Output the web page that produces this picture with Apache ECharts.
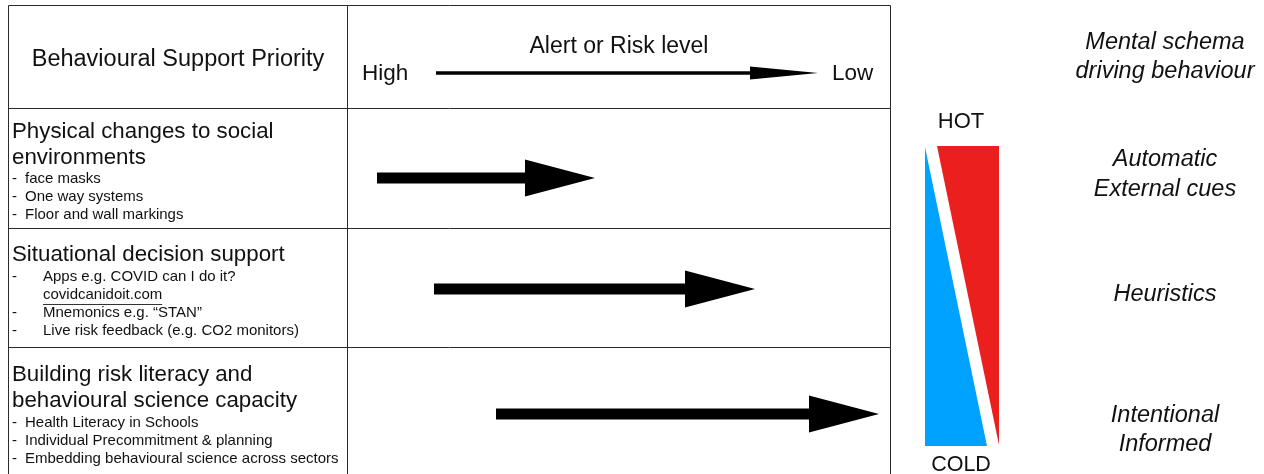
<!DOCTYPE html>
<html>
<head>
<meta charset="utf-8">
<title>Behavioural support priority</title>
<script src="https://cdn.jsdelivr.net/npm/echarts@6/dist/echarts.min.js"></script>
<style>
  html, body { margin: 0; padding: 0; background: #fff; }
  #chart { width: 1264px; height: 474px; }
</style>
</head>
<body>
<div id="chart"></div>
<script>
// ---- data ----
const headerLeft = 'Behavioural Support Priority';
const riskTitle = 'Alert or Risk level';
const riskEnds = ['High', 'Low'];

const priorities = [
  ['Physical changes to social', 'environments'],
  ['Situational decision support'],
  ['Building risk literacy and', 'behavioural science capacity'],
];
const priorityItems = [
  ['face masks', 'One way systems', 'Floor and wall markings'],
  ['Apps e.g. COVID can I do it?', 'covidcanidoit.com', 'Mnemonics e.g. “STAN”', 'Live risk feedback (e.g. CO2 monitors)'],
  ['Health Literacy in Schools', 'Individual Precommitment & planning', 'Embedding behavioural science across sectors'],
];

// arrows in the alert/risk column (start, tip, height on the page)
const arrowFrom = [377, 434, 496];
const arrowTo = [595, 755, 879];
const arrowY = [178, 289, 414];
const riskArrow = [436, 818, 73];

// hot / cold wedge
const hotWedge = [[937, 146], [999, 146], [999, 445]];
const coldWedge = [[925, 147], [925, 446], [987, 446]];
const hotCold = ['HOT', 'COLD'];

const schemaTitle = ['Mental schema', 'driving behaviour'];
const schemaLevels = [['Automatic', 'External cues'], ['Heuristics'], ['Intentional', 'Informed']];

// table rules
const rowRules = [5, 108, 228, 347];
const colRules = [8, 347, 890];

// ---- layout ----
const FONT = "'Liberation Sans', Arial, Helvetica, sans-serif";
const tableLeft = colRules[0], tableRight = colRules[2];
const titleY = [132, 255, 375];
const bulletY = [179, 277, 423];
const bulletIndent = [25, 43, 25];
const schemaTitleY = [42, 71];
const schemaLevelY = [[159, 189], [294], [415, 444]];

const chart = echarts.init(document.getElementById('chart'), null, { renderer: 'canvas' });

// collect texts
const texts = [];
function addText(x, y, text, font, align, underline) {
  texts.push({ x, y, text, font, align: align || 'left', underline: !!underline });
}
addText(178, 60, headerLeft, '23.5px ' + FONT, 'center');
addText(619, 47, riskTitle, '23px ' + FONT, 'center');
addText(362, 74, riskEnds[0], '22.5px ' + FONT, 'left');
addText(832, 74, riskEnds[1], '22.5px ' + FONT, 'left');

priorities.forEach((lines, i) => {
  lines.forEach((ln, j) => {
    addText(12, titleY[i] + j * 26, ln, '22.3px ' + FONT);
  });
  priorityItems[i].forEach((it, k) => {
    const isLink = /\.com$/.test(it);
    const y = bulletY[i] + k * 18;
    if (!isLink) addText(12, y, '-', '15px ' + FONT);
    addText(bulletIndent[i], y, it, '15px ' + FONT, 'left', isLink);
  });
});

addText(961, 122, hotCold[0], '22px ' + FONT, 'center');
addText(961, 465, hotCold[1], '21.5px ' + FONT, 'center');
schemaTitle.forEach((t, j) => addText(1165, schemaTitleY[j], t, 'italic 23.5px ' + FONT, 'center'));
schemaLevels.forEach((lines, i) => {
  lines.forEach((t, j) => addText(1165, schemaLevelY[i][j], t, 'italic 23.5px ' + FONT, 'center'));
});

const measureCtx = document.createElement('canvas').getContext('2d');

function arrowShape(a, b, head, half, shaft) {
  const hx = b[0] - head;
  const y = a[1];
  return [[a[0], y - shaft], [hx, y - shaft], [hx, y - half], [b[0], y],
          [hx, y + half], [hx, y + shaft], [a[0], y + shaft]];
}

const hRules = rowRules.map(y => [tableLeft, tableRight, y, y]);
const vRules = colRules.map(x => [x, x, rowRules[0], 474]);

const option = {
  animation: false,
  backgroundColor: '#fff',
  grid: { left: 0, right: 0, top: 0, bottom: 0 },
  xAxis: { type: 'value', min: 0, max: 1264, show: false },
  yAxis: { type: 'value', min: 0, max: 474, inverse: true, show: false },
  series: [
    {
      // table rules
      type: 'custom', silent: true,
      data: hRules.concat(vRules),
      renderItem: (params, api) => {
        const p1 = api.coord([api.value(0), api.value(2)]);
        const p2 = api.coord([api.value(1), api.value(3)]);
        return {
          type: 'line',
          shape: { x1: Math.round(p1[0]) + 0.5, y1: Math.round(p1[1]) + 0.5, x2: Math.round(p2[0]) + 0.5, y2: Math.round(p2[1]) + 0.5 },
          style: { stroke: '#2a2a2a', lineWidth: 1 }
        };
      }
    },
    {
      // priority arrows
      type: 'custom', silent: true,
      data: arrowFrom.map((x, i) => [x, arrowTo[i], arrowY[i]]),
      renderItem: (params, api) => {
        const a = api.coord([api.value(0), api.value(2)]);
        const b = api.coord([api.value(1), api.value(2)]);
        return { type: 'polygon', shape: { points: arrowShape(a, b, 70, 18.5, 5.5) }, style: { fill: '#000' } };
      }
    },
    {
      // alert / risk level arrow
      type: 'custom', silent: true,
      data: [riskArrow],
      renderItem: (params, api) => {
        const a = api.coord([api.value(0), api.value(2)]);
        const b = api.coord([api.value(1), api.value(2)]);
        return { type: 'polygon', shape: { points: arrowShape(a, b, 68, 6.5, 1.8) }, style: { fill: '#000' } };
      }
    },
    {
      // hot / cold wedge
      type: 'custom', silent: true,
      data: [[0], [1]],
      renderItem: (params, api) => {
        const pts = (params.dataIndex === 0 ? hotWedge : coldWedge).map(p => api.coord(p));
        return { type: 'polygon', shape: { points: pts }, style: { fill: params.dataIndex === 0 ? '#ec1f1f' : '#00a2ff' } };
      }
    },
    {
      // texts
      type: 'custom', silent: true,
      data: texts.map(t => [t.x, t.y]),
      renderItem: (params, api) => {
        const t = texts[params.dataIndex];
        const p = api.coord([api.value(0), api.value(1)]);
        const children = [{
          type: 'text', x: p[0], y: p[1],
          style: { text: t.text, font: t.font, fill: '#111', align: t.align, verticalAlign: 'middle' }
        }];
        if (t.underline) {
          measureCtx.font = t.font;
          const w = measureCtx.measureText(t.text).width;
          children.push({
            type: 'line',
            shape: { x1: p[0], y1: p[1] + 9.5, x2: p[0] + w, y2: p[1] + 9.5 },
            style: { stroke: '#333', lineWidth: 1 }
          });
        }
        return { type: 'group', children };
      }
    }
  ]
};

chart.setOption(option);
</script>
</body>
</html>
